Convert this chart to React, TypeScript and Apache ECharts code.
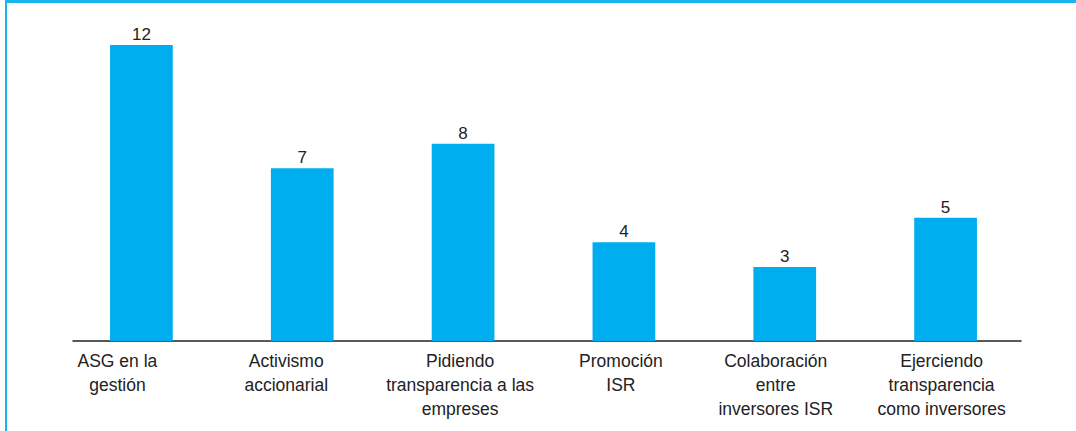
import React, { useEffect, useRef } from "react";
import * as echarts from "echarts";

const categories: string[] = [
  "ASG en la\ngestión",
  "Activismo\naccionarial",
  "Pidiendo\ntransparencia a las\nempreses",
  "Promoción\nISR",
  "Colaboración\nentre\ninversores ISR",
  "Ejerciendo\ntransparencia\ncomo inversores",
];
const values: number[] = [12, 7, 8, 4, 3, 5];
// horizontal nudge of each category label (px, negative = left)
const labelShift: number[] = [-24, -16, -3, -3, -9, -4];

const BAR = "#00AEEF";
const FRAME = "#17B5EB";
const FONT = "'Liberation Sans', Arial, sans-serif";

export default function App() {
  const ref = useRef<HTMLDivElement>(null);
  useEffect(() => {
    if (!ref.current) return;
    const chart = echarts.init(ref.current, undefined, { renderer: "svg" });
    chart.setOption({
      animation: false,
      grid: [
        { left: 61, right: 50, top: 45, bottom: 90, containLabel: false },
        { left: 73, right: 55, top: 45, bottom: 90, containLabel: false },
      ],
      xAxis: [
        {
          type: "category",
          gridIndex: 0,
          data: categories.map((c, i) => {
            const s = labelShift[i];
            return {
              value: c,
              textStyle: {
                padding: s < 0 ? [0, -2 * s, 0, 0] : [0, 0, 0, 2 * s],
              },
            };
          }),
          axisLine: { show: false },
          axisTick: { show: false },
          axisLabel: {
            interval: 0,
            color: "#222",
            fontFamily: FONT,
            fontSize: 17.5,
            lineHeight: 24,
            margin: 8,
          },
        },
        {
          type: "category",
          gridIndex: 1,
          data: categories,
          axisLine: { show: true, lineStyle: { color: "#222", width: 1.5 } },
          axisTick: { show: false },
          axisLabel: { show: false },
        },
      ],
      yAxis: [
        { type: "value", gridIndex: 0, min: 0, max: 12, show: false, splitLine: { show: false } },
        { type: "value", gridIndex: 1, min: 0, max: 12, show: false, splitLine: { show: false } },
      ],
      series: [
        {
          type: "bar",
          xAxisIndex: 0,
          yAxisIndex: 0,
          data: values,
          barWidth: "39%",
          itemStyle: { color: BAR },
          label: {
            show: true,
            position: "top",
            distance: 2,
            color: "#222",
            fontFamily: FONT,
            fontSize: 17,
          },
        },
      ],
    });
    return () => chart.dispose();
  }, []);
  return (
    <div style={{ position: "fixed", left: 0, top: 0, width: 1076, height: 431, background: "#fff" }}>
      <div
        style={{
          position: "absolute",
          left: 5,
          top: 0,
          width: 1071,
          height: 431,
          borderTop: `3px solid ${FRAME}`,
          borderLeft: `2px solid ${FRAME}`,
          boxSizing: "border-box",
        }}
      />
      <div ref={ref} style={{ position: "absolute", left: 0, top: 0, width: 1076, height: 431 }} />
    </div>
  );
}
